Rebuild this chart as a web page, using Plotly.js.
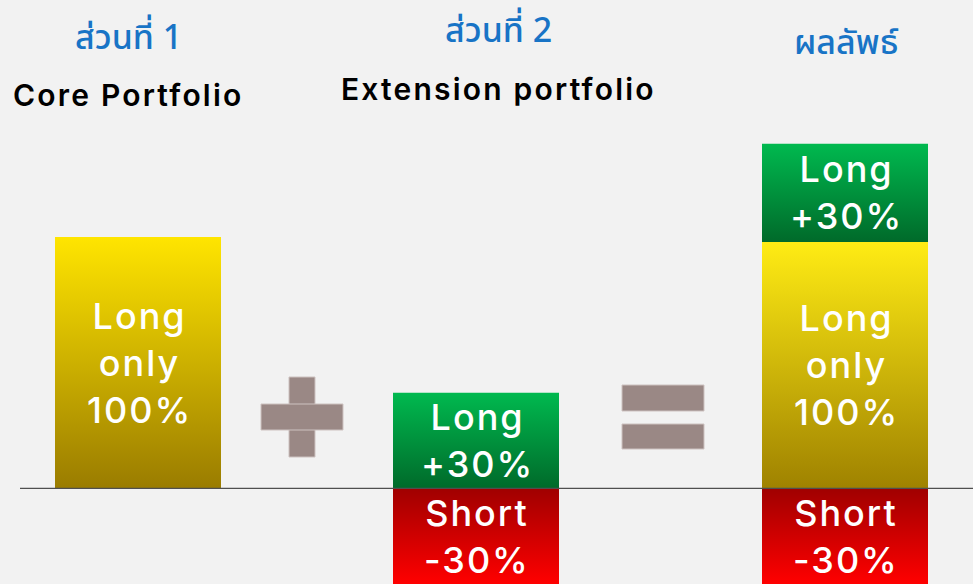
<!DOCTYPE html>
<html>
<head>
<meta charset="utf-8">
<script src="https://cdn.plot.ly/plotly-3.0.1.min.js"></script>
<style>html,body{margin:0;padding:0;background:#f2f2f2;}#chart{width:973px;height:584px;}</style>
</head>
<body>
<div id="chart"></div>
<script>
// ---- data (bar heights, baseline = 0) ----
const categories = ['ส่วนที่ 1', 'ส่วนที่ 2', 'ผลลัพธ์'];
const subtitles = ['Core Portfolio', 'Extension portfolio', ''];
const longOnly = [100, 0, 98];
const longExt = [0, 38, 39];
const shortExt = [0, -38, -38];
const longOnlyLabel = ['Long', 'only', '100%'];
const longExtLabel = ['Long', '+30%'];
const shortLabel = ['Short', '-30%'];

// ---- layout constants ----
const W = 973, H = 584;
const slotCenter = [138, 476, 845];
const titleCenter = [128, 498, 846];
const halfW = 83;
const yRange = [-38, 194.2];
const barFont = {family: 'Inter, "Open Sans", sans-serif', size: 36, color: '#ffffff', weight: 500};
const thaiFont = {family: '"Noto Sans Thai", "Noto Sans", sans-serif', size: 34, color: '#1874c6', weight: 500};
const subFont = {family: 'Inter, "Open Sans", sans-serif', size: 30, color: '#000000', weight: 600};

function spaced(lines, ls) {
  return lines.map(t => '<span style="letter-spacing:' + ls + 'px">' + t + '</span>').join('<br>');
}

const styles = {
  yellow1: ['#9a7c00', '#ffe500'],
  yellow3: ['#9f8200', '#ffec14'],
  green: ['#006a2a', '#00b94f'],
  red: ['#ff0000', '#a00000']
};

const traces = [];
const annotations = [];

function seg(i, base, top, colors, label) {
  if (top === base) return;
  const c = slotCenter[i];
  const lo = Math.min(base, top), hi = Math.max(base, top);
  traces.push({
    type: 'scatter', mode: 'lines',
    x: [c - halfW, c + halfW, c + halfW, c - halfW, c - halfW],
    y: [lo, lo, hi, hi, lo],
    fill: 'toself',
    fillcolor: colors[1],
    fillgradient: {type: 'vertical', start: lo, stop: hi,
      colorscale: [[0, colors[0]], [1, colors[1]]]},
    line: {width: 0, color: 'rgba(0,0,0,0)'},
    hoverinfo: 'skip', showlegend: false
  });
  annotations.push({
    x: c + 1, y: (lo + hi) / 2, xref: 'x', yref: 'y',
    text: spaced(label, 2), showarrow: false, font: barFont,
    xanchor: 'center', yanchor: 'middle', align: 'center'
  });
}

for (let i = 0; i < categories.length; i++) {
  const lo = longOnly[i];
  seg(i, 0, lo, i === 0 ? styles.yellow1 : styles.yellow3, longOnlyLabel);
  seg(i, lo, lo + longExt[i], styles.green, longExtLabel);
  seg(i, 0, shortExt[i], styles.red, shortLabel);
}

// titles
const titleY = [38, 31, 44];
const subY = [95, 89, 0];
for (let i = 0; i < categories.length; i++) {
  annotations.push({
    x: titleCenter[i] / W, y: 1 - titleY[i] / H, xref: 'paper', yref: 'paper',
    text: categories[i], showarrow: false, font: thaiFont,
    xanchor: 'center', yanchor: 'middle'
  });
  if (subtitles[i]) {
    annotations.push({
      x: titleCenter[i] / W, y: 1 - subY[i] / H, xref: 'paper', yref: 'paper',
      text: spaced([subtitles[i]], 2.2), showarrow: false, font: subFont,
      xanchor: 'center', yanchor: 'middle'
    });
  }
}

function px(x) { return x / W; }
function py(y) { return 1 - y / H; }
const signFill = '#9a8885', signLine = '#cdc2c0';
function rectPx(x0, y0, x1, y1) {
  return {type: 'rect', xref: 'paper', yref: 'paper',
    x0: px(x0), x1: px(x1), y0: py(y1), y1: py(y0),
    fillcolor: signFill, line: {color: signLine, width: 1}, layer: 'above'};
}
const shapes = [
  rectPx(289, 377, 315, 457),
  rectPx(261, 404, 343, 430),
  rectPx(622, 385, 704, 411),
  rectPx(622, 424, 704, 449),
  {type: 'line', xref: 'x', yref: 'y', x0: 20, x1: W, y0: 0, y1: 0,
   line: {color: '#4f4f4f', width: 1.3}, layer: 'above'}
];

const layout = {
  width: W, height: H,
  margin: {l: 0, r: 0, t: 0, b: 0, pad: 0},
  paper_bgcolor: '#f2f2f2', plot_bgcolor: '#f2f2f2',
  xaxis: {range: [0, W], visible: false, fixedrange: true},
  yaxis: {range: yRange, visible: false, fixedrange: true},
  showlegend: false, hovermode: false,
  annotations: annotations, shapes: shapes
};

Plotly.newPlot('chart', traces, layout, {displayModeBar: false, staticPlot: true});
</script>
</body>
</html>
